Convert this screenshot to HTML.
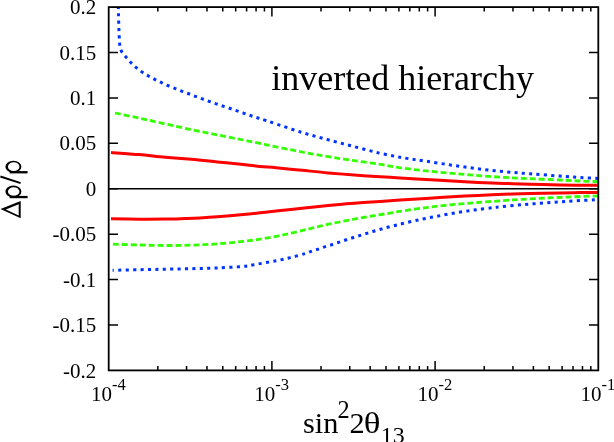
<!DOCTYPE html>
<html><head><meta charset="utf-8"><style>
html,body{margin:0;padding:0;background:#fff;}
svg{display:block;will-change:transform;}
text{font-family:"Liberation Serif",serif;fill:#000;}
.sans{font-family:"Liberation Sans",sans-serif;}
</style></head><body>
<svg width="614" height="442" viewBox="0 0 614 442">
<rect width="614" height="442" fill="#fff"/>
<defs><clipPath id="pc"><rect x="108.7" y="7.1" width="489.59999999999997" height="363.29999999999995"/></clipPath></defs>
<line x1="108.7" y1="188.75" x2="598.3" y2="188.75" stroke="#000" stroke-width="1.7"/>
<g clip-path="url(#pc)" fill="none">
<path d="M118.30 5.00 C118.33 6.67 118.42 11.50 118.50 15.00 C118.58 18.50 118.68 22.50 118.80 26.00 C118.92 29.50 119.05 32.95 119.20 36.00 C119.35 39.05 119.30 41.72 119.70 44.30 C120.10 46.88 120.50 49.30 121.60 51.50 C122.70 53.70 124.70 55.60 126.30 57.50 C127.90 59.40 129.48 61.18 131.20 62.90 C132.92 64.62 134.73 66.23 136.60 67.80 C138.47 69.37 140.35 70.88 142.40 72.30 C144.45 73.72 146.70 75.05 148.90 76.30 C151.10 77.55 153.42 78.70 155.60 79.80 C157.78 80.90 159.77 81.87 162.00 82.90 C164.23 83.93 166.65 85.00 169.00 86.00 C171.35 87.00 173.78 87.95 176.10 88.90 C178.42 89.85 180.57 90.80 182.90 91.70 C185.23 92.60 187.75 93.43 190.10 94.30 C192.45 95.17 194.72 96.03 197.00 96.90 C199.28 97.77 201.48 98.65 203.80 99.50 C206.12 100.35 208.52 101.17 210.90 102.00 C213.28 102.83 215.75 103.70 218.10 104.50 C220.45 105.30 222.65 106.02 225.00 106.80 C227.35 107.58 229.88 108.42 232.20 109.20 C234.52 109.98 236.58 110.70 238.90 111.50 C241.22 112.30 243.75 113.18 246.10 114.00 C248.45 114.82 250.68 115.63 253.00 116.40 C255.32 117.17 256.15 117.35 260.00 118.60 C263.85 119.85 269.08 121.58 276.10 123.90 C283.12 126.22 293.42 129.85 302.10 132.50 C310.78 135.15 319.52 137.45 328.20 139.80 C336.88 142.15 345.52 144.35 354.20 146.60 C362.88 148.85 372.02 151.42 380.30 153.30 C388.58 155.18 396.27 156.58 403.90 157.90 C411.53 159.22 418.07 159.98 426.10 161.20 C434.13 162.42 443.42 163.93 452.10 165.20 C460.78 166.47 469.52 167.72 478.20 168.80 C486.88 169.88 495.52 170.87 504.20 171.70 C512.88 172.53 521.00 173.07 530.30 173.80 C539.60 174.53 551.72 175.48 560.00 176.10 C568.28 176.72 573.33 177.08 580.00 177.50 C586.67 177.92 596.67 178.42 600.00 178.60" stroke="#0033ff" stroke-width="3.0" stroke-dasharray="3.1 4.25" stroke-dashoffset="-0.85"/>
<path d="M112.60 270.30 C117.02 270.20 130.35 269.88 139.10 269.70 C147.85 269.52 156.42 269.37 165.10 269.20 C173.78 269.03 182.50 268.92 191.20 268.70 C199.90 268.48 208.62 268.28 217.30 267.90 C225.98 267.52 237.20 266.93 243.30 266.40 C249.40 265.87 248.43 265.63 253.90 264.70 C259.37 263.77 270.02 261.98 276.10 260.80 C282.18 259.62 285.57 258.80 290.40 257.60 C295.23 256.40 301.47 254.70 305.10 253.60 C308.73 252.50 309.88 251.80 312.20 251.00 C314.52 250.20 316.70 249.57 319.00 248.80 C321.30 248.03 323.65 247.15 326.00 246.40 C328.35 245.65 330.73 245.05 333.10 244.30 C335.47 243.55 337.85 242.70 340.20 241.90 C342.55 241.10 344.85 240.28 347.20 239.50 C349.55 238.72 351.92 237.95 354.30 237.20 C356.68 236.45 359.15 235.73 361.50 235.00 C363.85 234.27 366.00 233.53 368.40 232.80 C370.80 232.07 373.43 231.32 375.90 230.60 C378.37 229.88 380.77 229.18 383.20 228.50 C385.63 227.82 388.03 227.13 390.50 226.50 C392.97 225.87 395.80 225.23 398.00 224.70 C400.20 224.17 400.20 224.12 403.70 223.30 C407.20 222.48 413.95 220.88 419.00 219.80 C424.05 218.72 429.10 217.75 434.00 216.80 C438.90 215.85 443.52 214.97 448.40 214.10 C453.28 213.23 458.35 212.37 463.30 211.60 C468.25 210.83 473.15 210.15 478.10 209.50 C483.05 208.85 489.35 208.13 493.00 207.70 C496.65 207.27 495.15 207.40 500.00 206.90 C504.85 206.40 514.75 205.35 522.10 204.70 C529.45 204.05 536.75 203.55 544.10 203.00 C551.45 202.45 558.83 201.88 566.20 201.40 C573.57 200.92 582.67 200.42 588.30 200.10 C593.93 199.78 598.05 199.60 600.00 199.50" stroke="#0033ff" stroke-width="3.0" stroke-dasharray="3.1 4.3" stroke-dashoffset="1.65"/>
<path d="M115.00 113.00 C119.02 113.85 130.75 116.28 139.10 118.10 C147.45 119.92 156.42 121.98 165.10 123.90 C173.78 125.82 182.50 127.78 191.20 129.60 C199.90 131.42 208.62 133.07 217.30 134.80 C225.98 136.53 236.18 138.57 243.30 140.00 C250.42 141.43 254.53 142.27 260.00 143.40 C265.47 144.53 269.08 145.37 276.10 146.80 C283.12 148.23 293.42 150.35 302.10 152.00 C310.78 153.65 319.52 155.27 328.20 156.70 C336.88 158.13 345.52 159.33 354.20 160.60 C362.88 161.87 372.67 163.10 380.30 164.30 C387.93 165.50 392.37 166.70 400.00 167.80 C407.63 168.90 417.42 169.98 426.10 170.90 C434.78 171.82 443.42 172.52 452.10 173.30 C460.78 174.08 469.52 174.92 478.20 175.60 C486.88 176.28 495.52 176.88 504.20 177.40 C512.88 177.92 521.00 178.27 530.30 178.70 C539.60 179.13 551.72 179.62 560.00 180.00 C568.28 180.38 573.33 180.70 580.00 181.00 C586.67 181.30 596.67 181.67 600.00 181.80" stroke="#33ff00" stroke-width="2.8" stroke-dasharray="5.95 3.0"/>
<path d="M112.90 244.20 C117.27 244.33 130.40 244.78 139.10 245.00 C147.80 245.22 156.42 245.47 165.10 245.50 C173.78 245.53 182.50 245.47 191.20 245.20 C199.90 244.93 208.62 244.53 217.30 243.90 C225.98 243.27 236.18 242.18 243.30 241.40 C250.42 240.62 254.53 240.05 260.00 239.20 C265.47 238.35 271.10 237.27 276.10 236.30 C281.10 235.33 285.40 234.42 290.00 233.40 C294.60 232.38 300.05 231.07 303.70 230.20 C307.35 229.33 309.18 228.87 311.90 228.20 C314.62 227.53 317.25 226.87 320.00 226.20 C322.75 225.53 325.60 224.82 328.40 224.20 C331.20 223.58 333.95 223.07 336.80 222.50 C339.65 221.93 342.58 221.37 345.50 220.80 C348.42 220.23 351.35 219.65 354.30 219.10 C357.25 218.55 360.22 218.03 363.20 217.50 C366.18 216.97 369.20 216.40 372.20 215.90 C375.20 215.40 378.23 214.97 381.20 214.50 C384.17 214.03 386.87 213.63 390.00 213.10 C393.13 212.57 393.98 212.22 400.00 211.30 C406.02 210.38 417.42 208.70 426.10 207.60 C434.78 206.50 443.42 205.55 452.10 204.70 C460.78 203.85 469.65 203.18 478.20 202.50 C486.75 201.82 496.08 201.13 503.40 200.60 C510.72 200.07 515.32 199.72 522.10 199.30 C528.88 198.88 536.75 198.47 544.10 198.10 C551.45 197.73 558.83 197.42 566.20 197.10 C573.57 196.78 582.67 196.42 588.30 196.20 C593.93 195.98 598.05 195.87 600.00 195.80" stroke="#33ff00" stroke-width="2.8" stroke-dasharray="5.95 3.0"/>
<path d="M111.00 152.50 C115.68 152.85 130.08 153.82 139.10 154.60 C148.12 155.38 156.42 156.42 165.10 157.20 C173.78 157.98 182.50 158.52 191.20 159.30 C199.90 160.08 208.62 161.03 217.30 161.90 C225.98 162.77 236.18 163.75 243.30 164.50 C250.42 165.25 254.53 165.87 260.00 166.40 C265.47 166.93 269.08 167.05 276.10 167.70 C283.12 168.35 293.42 169.43 302.10 170.30 C310.78 171.17 319.52 172.12 328.20 172.90 C336.88 173.68 345.52 174.35 354.20 175.00 C362.88 175.65 372.67 176.32 380.30 176.80 C387.93 177.28 392.37 177.45 400.00 177.90 C407.63 178.35 417.42 178.97 426.10 179.50 C434.78 180.03 443.42 180.62 452.10 181.10 C460.78 181.58 469.52 182.02 478.20 182.40 C486.88 182.78 495.52 183.10 504.20 183.40 C512.88 183.70 521.00 183.93 530.30 184.20 C539.60 184.47 551.72 184.83 560.00 185.00 C568.28 185.17 573.33 185.15 580.00 185.20 C586.67 185.25 596.67 185.28 600.00 185.30" stroke="#ff0000" stroke-width="3.0"/>
<path d="M111.00 218.80 C115.68 218.87 130.08 219.15 139.10 219.20 C148.12 219.25 157.45 219.22 165.10 219.10 C172.75 218.98 179.18 218.70 185.00 218.50 C190.82 218.30 194.62 218.18 200.00 217.90 C205.38 217.62 210.08 217.37 217.30 216.80 C224.52 216.23 236.18 215.17 243.30 214.50 C250.42 213.83 254.53 213.37 260.00 212.80 C265.47 212.23 269.08 211.87 276.10 211.10 C283.12 210.33 293.42 209.13 302.10 208.20 C310.78 207.27 319.52 206.32 328.20 205.50 C336.88 204.68 345.52 203.98 354.20 203.30 C362.88 202.62 372.67 201.93 380.30 201.40 C387.93 200.87 392.37 200.60 400.00 200.10 C407.63 199.60 417.42 198.95 426.10 198.40 C434.78 197.85 443.42 197.30 452.10 196.80 C460.78 196.30 469.52 195.82 478.20 195.40 C486.88 194.98 495.52 194.62 504.20 194.30 C512.88 193.98 521.00 193.73 530.30 193.50 C539.60 193.27 551.72 193.05 560.00 192.90 C568.28 192.75 573.33 192.68 580.00 192.60 C586.67 192.52 596.67 192.43 600.00 192.40" stroke="#ff0000" stroke-width="3.0"/>
</g>
<path d="M157.83 370.40 v-4.40 M157.83 7.10 v4.40 M186.57 370.40 v-4.40 M186.57 7.10 v4.40 M206.96 370.40 v-4.40 M206.96 7.10 v4.40 M222.77 370.40 v-4.40 M222.77 7.10 v4.40 M235.69 370.40 v-4.40 M235.69 7.10 v4.40 M246.62 370.40 v-4.40 M246.62 7.10 v4.40 M256.08 370.40 v-4.40 M256.08 7.10 v4.40 M264.43 370.40 v-4.40 M264.43 7.10 v4.40 M271.90 370.40 v-9.30 M271.90 7.10 v9.30 M321.03 370.40 v-4.40 M321.03 7.10 v4.40 M349.77 370.40 v-4.40 M349.77 7.10 v4.40 M370.16 370.40 v-4.40 M370.16 7.10 v4.40 M385.97 370.40 v-4.40 M385.97 7.10 v4.40 M398.89 370.40 v-4.40 M398.89 7.10 v4.40 M409.82 370.40 v-4.40 M409.82 7.10 v4.40 M419.28 370.40 v-4.40 M419.28 7.10 v4.40 M427.63 370.40 v-4.40 M427.63 7.10 v4.40 M435.10 370.40 v-9.30 M435.10 7.10 v9.30 M484.23 370.40 v-4.40 M484.23 7.10 v4.40 M512.97 370.40 v-4.40 M512.97 7.10 v4.40 M533.36 370.40 v-4.40 M533.36 7.10 v4.40 M549.17 370.40 v-4.40 M549.17 7.10 v4.40 M562.09 370.40 v-4.40 M562.09 7.10 v4.40 M573.02 370.40 v-4.40 M573.02 7.10 v4.40 M582.48 370.40 v-4.40 M582.48 7.10 v4.40 M590.83 370.40 v-4.40 M590.83 7.10 v4.40 M108.70 52.51 h9.30 M598.30 52.51 h-9.30 M108.70 97.92 h9.30 M598.30 97.92 h-9.30 M108.70 143.34 h9.30 M598.30 143.34 h-9.30 M108.70 188.75 h9.30 M598.30 188.75 h-9.30 M108.70 234.16 h9.30 M598.30 234.16 h-9.30 M108.70 279.57 h9.30 M598.30 279.57 h-9.30 M108.70 324.99 h9.30 M598.30 324.99 h-9.30" stroke="#000" stroke-width="1.5" fill="none"/>
<rect x="108.7" y="7.1" width="489.60" height="363.30" fill="none" stroke="#000" stroke-width="1.8"/>
<text x="96.2" y="14.20" text-anchor="end" font-size="21">0.2</text>
<text x="96.2" y="59.61" text-anchor="end" font-size="21">0.15</text>
<text x="96.2" y="105.02" text-anchor="end" font-size="21">0.1</text>
<text x="96.2" y="150.44" text-anchor="end" font-size="21">0.05</text>
<text x="96.2" y="195.85" text-anchor="end" font-size="21">0</text>
<text x="96.2" y="241.26" text-anchor="end" font-size="21">-0.05</text>
<text x="96.2" y="286.68" text-anchor="end" font-size="21">-0.1</text>
<text x="96.2" y="332.09" text-anchor="end" font-size="21">-0.15</text>
<text x="96.2" y="377.50" text-anchor="end" font-size="21">-0.2</text>
<text x="91.00" y="400.6" font-size="21">10<tspan font-size="16.5" dy="-10.3">-4</tspan></text>
<text x="254.20" y="400.6" font-size="21">10<tspan font-size="16.5" dy="-10.3">-3</tspan></text>
<text x="417.40" y="400.6" font-size="21">10<tspan font-size="16.5" dy="-10.3">-2</tspan></text>
<text x="580.60" y="400.6" font-size="21">10<tspan font-size="16.5" dy="-10.3">-1</tspan></text>
<text x="271.2" y="90.4" font-size="36">inverted hierarchy</text>
<text x="303.0" y="432.6" font-size="30.3">sin</text>
<text x="337.5" y="417.7" font-size="24.3">2</text>
<text x="349.6" y="432.6" font-size="30.3">2</text>
<text transform="translate(363.7 432.6) scale(1.15 1)" font-size="30.3">θ</text>
<text x="380.8" y="443.2" font-size="23.9">13</text>
<g fill="#000">
<path fill-rule="evenodd" d="M0.5 208.9 L20.7 200.9 L20.7 218.2 Z M5.8 209.6 L18.7 204.2 L18.7 215.4 Z"/>
<g><path fill-rule="evenodd" d="M5.40 191.55 a8.00 6.05 0 1 0 16.00 0 a8.00 6.05 0 1 0 -16.00 0 Z M7.95 191.45 a5.75 4.30 0 1 0 11.50 0 a5.75 4.30 0 1 0 -11.50 0 Z"/><rect x="9.6" y="195.9" width="18.0" height="2.3"/></g>
<line x1="20.6" y1="183.1" x2="0.4" y2="176.5" stroke="#000" stroke-width="2.0"/>
<g transform="translate(0 -24.8)"><path fill-rule="evenodd" d="M5.40 191.55 a8.00 6.05 0 1 0 16.00 0 a8.00 6.05 0 1 0 -16.00 0 Z M7.95 191.45 a5.75 4.30 0 1 0 11.50 0 a5.75 4.30 0 1 0 -11.50 0 Z"/><rect x="9.6" y="195.9" width="18.0" height="2.3"/></g>
</g>
</svg>
</body></html>
